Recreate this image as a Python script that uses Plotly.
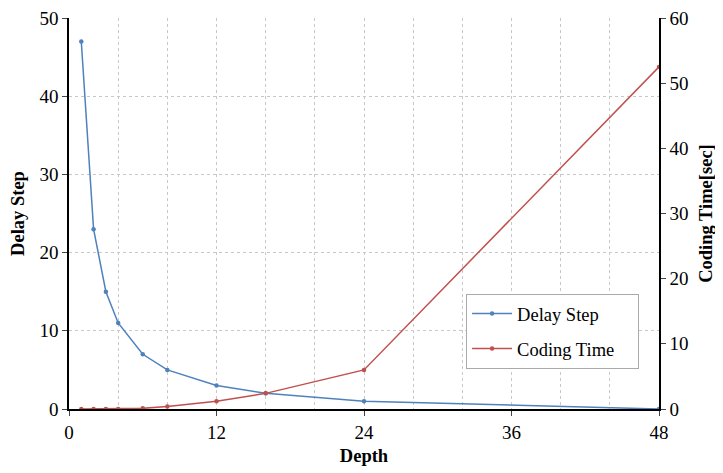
import plotly.graph_objects as go

depth = [1, 2, 3, 4, 6, 8, 12, 16, 24, 48]
delay_step = [47, 23, 15, 11, 7, 5, 3, 2, 1, 0]
coding_time = [0, 0, 0, 0, 0.1, 0.4, 1.2, 2.4, 6, 52.5]
series_names = ["Delay Step", "Coding Time"]

blue = "#4F81BD"
red = "#C0504D"
font_family = "Liberation Serif, Times New Roman, serif"
pad = "\u00a0" * 4  # extra room on the right of the legend box

fig = go.Figure()
fig.add_trace(go.Scatter(x=depth, y=delay_step, name=series_names[0] + pad, mode="lines+markers",
                         legendgroup="a",
                         line=dict(color=blue, width=1.5), marker=dict(size=4.5, color=blue)))
fig.add_trace(go.Scatter(x=depth, y=coding_time, name=series_names[1] + pad, mode="lines+markers",
                         legendgroup="b",
                         line=dict(color=red, width=1.5), marker=dict(size=4.5, color=red),
                         yaxis="y2"))

grid = "#C8C8C8"
# page body has an 8px margin, so the figure is 8px smaller than the window
fig.update_layout(
    width=715, height=465,
    margin=dict(l=61, r=64, t=10, b=64),
    paper_bgcolor="white", plot_bgcolor="white",
    font=dict(family=font_family, size=19, color="black"),
    showlegend=True,
    legend=dict(x=0.673, y=0.294, xanchor="left", yanchor="top",
                bordercolor="#AAAAAA", borderwidth=1, bgcolor="white",
                traceorder="grouped",
                font=dict(size=18.5), tracegroupgap=8, itemwidth=40),
    xaxis=dict(range=[0, 48], tickvals=[0, 12, 24, 36, 48], ticks="outside", ticklen=5,
               automargin=False, ticklabeloverflow="allow",
               showline=True, linecolor="black", linewidth=1.5, mirror=False,
               showgrid=True, gridcolor=grid, griddash="dot", gridwidth=1,
               minor=dict(dtick=4, tick0=0, showgrid=True, gridcolor=grid, griddash="dot", gridwidth=1),
               zeroline=False,
               title=dict(text="<b>Depth</b>", font=dict(size=18.5), standoff=8)),
    yaxis=dict(range=[0, 50], dtick=10, ticks="outside", ticklen=5, automargin=False,
               ticklabeloverflow="allow",
               showline=True, linecolor="black", linewidth=1.5,
               showgrid=True, gridcolor=grid, griddash="dot", gridwidth=1, zeroline=False,
               title=dict(text="<b>Delay Step</b>", font=dict(size=18.5), standoff=10)),
    yaxis2=dict(range=[0, 60], dtick=10, ticks="outside", ticklen=5, overlaying="y", side="right",
                automargin=False, ticklabeloverflow="allow",
                showline=True, linecolor="black", linewidth=1.5, showgrid=False, zeroline=False,
                title=dict(text="<b>Coding Time[sec]</b>", font=dict(size=18.5), standoff=12)),
)
fig.write_html("out.html")
